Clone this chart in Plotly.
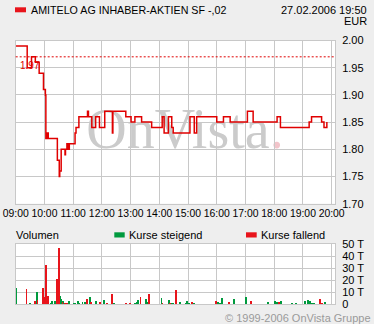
import plotly.graph_objects as go

DAY = "2006-02-27 "

# ---------------- data ----------------
price_times = ["09:00", "09:24", "09:33", "09:41", "09:49", "09:58", "10:02", "10:03", "10:05", "10:08",
               "10:27", "10:31", "10:32", "10:35", "10:43", "10:44", "10:47", "10:49", "10:52", "11:04",
               "11:06", "11:12", "11:30", "11:32", "11:39", "11:47", "11:55", "12:06", "12:22", "12:23",
               "12:50", "13:01", "13:09", "13:23", "13:44", "14:06", "14:10", "14:19", "14:26", "14:29",
               "15:04", "15:13", "15:18", "16:00", "16:14", "16:28", "17:04", "17:16", "18:06", "18:13",
               "19:13", "19:18", "19:39", "19:44", "19:50"]
price_values = [1.99, 1.95, 1.97, 1.96, 1.94, 1.91, 1.90, 1.82, 1.83, 1.82,
                1.78, 1.75, 1.76, 1.80, 1.79, 1.80, 1.81, 1.80, 1.81, 1.83,
                1.84, 1.86, 1.87, 1.86, 1.84, 1.86, 1.84, 1.87, 1.83, 1.87,
                1.86, 1.85, 1.86, 1.85, 1.84, 1.86, 1.83, 1.86, 1.84, 1.83,
                1.86, 1.83, 1.86, 1.85, 1.86, 1.85, 1.87, 1.85, 1.86, 1.84,
                1.85, 1.86, 1.85, 1.84, 1.85]
prev_close = 1.97

up_times = ["09:00", "09:30", "09:43", "10:04", "10:08", "10:14", "10:16", "10:21", "10:30", "10:32",
            "10:33", "10:35", "10:39", "10:41", "10:45", "10:50", "11:00", "11:02", "11:04", "11:09",
            "11:11", "11:19", "11:25", "11:27", "11:34", "11:48", "12:03", "12:24", "13:08", "13:12",
            "13:14", "13:16", "13:31", "13:33", "14:04", "14:19", "14:25", "14:29", "14:42", "14:54",
            "14:58", "15:02", "15:12", "16:02", "16:06", "16:11", "16:36", "17:01", "17:47", "18:01",
            "18:06", "18:14", "18:37", "18:45", "19:04", "19:10", "19:15", "19:19", "19:23", "19:46"]
up_volumes = [13.6, 1.1, 10.6, 2.0, 4.2, 1.1, 2.8, 2.8, 10.0, 4.4,
              7.0, 4.4, 2.8, 1.1, 1.1, 2.8, 1.1, 1.1, 1.1, 2.8,
              1.1, 2.0, 2.0, 2.0, 6.1, 2.8, 3.6, 1.1, 1.1, 2.0,
              3.6, 2.0, 4.4, 2.0, 5.3, 3.6, 1.1, 1.1, 2.0, 1.1,
              2.8, 1.1, 1.1, 2.0, 1.1, 5.3, 4.4, 6.1, 2.0, 2.8,
              2.0, 2.8, 1.1, 1.1, 2.8, 3.6, 2.8, 1.1, 1.1, 2.0]

down_times = ["09:22", "09:39", "09:45", "09:56", "10:00", "10:02", "10:06", "10:25", "10:29", "10:37",
              "10:43", "10:47", "11:29", "11:36", "11:55", "12:11", "12:20", "12:49", "12:59", "13:20",
              "13:37", "14:06", "14:21", "14:35", "15:08", "15:58", "16:25", "17:11", "18:10", "19:35",
              "19:40"]
down_volumes = [12.8, 2.8, 3.6, 13.6, 6.1, 32.8, 7.0, 21.1, 47.0, 2.0,
                1.1, 1.1, 4.4, 2.0, 2.0, 1.1, 8.6, 1.1, 1.1, 6.1,
                8.6, 1.1, 1.1, 12.0, 2.0, 2.8, 2.0, 2.8, 2.0, 4.4,
                1.1]

vol_tick_vals = [0, 10, 20, 30, 40, 50]
vol_tick_text = ["0", "10 T", "20 T", "30 T", "40 T", "50 T"]

title_text = "AMITELO AG INHABER-AKTIEN SF -,02"
date_text = "27.02.2006 19:50"
currency_text = "EUR"

# ---------------- styling ----------------
W, H = 374, 324
BG = "#EEEEEE"
GRID = "#C8C8C8"
RED = "#E8141B"
LINE_RED = "#E00000"
GREEN = "#009A3E"
FONT = "Liberation Sans, Arial, sans-serif"


def px(x):
    return x / W


def py(y):
    return 1 - y / H


def ts(t):
    return DAY + t


x_left, x_right = 15.7, 335.0
main_top, main_bot = 40.5, 203.7
vol_top, vol_bot = 244.0, 304.3

fig = go.Figure()

fig.add_trace(go.Scatter(
    x=[ts(t) for t in price_times], y=price_values,
    mode="lines", line=dict(color=LINE_RED, width=1.5, shape="hv"),
    xaxis="x", yaxis="y", hoverinfo="skip", showlegend=False))

fig.add_trace(go.Bar(
    x=[ts(t) for t in up_times], y=up_volumes, width=110000,
    marker=dict(color=GREEN, line=dict(width=0)),
    xaxis="x2", yaxis="y2", showlegend=False))

fig.add_trace(go.Bar(
    x=[ts(t) for t in down_times], y=down_volumes, width=110000,
    marker=dict(color=RED, line=dict(width=0)),
    xaxis="x2", yaxis="y2", showlegend=False))

x_range = [ts("09:00"), ts("20:07")]
common_x = dict(
    type="date", range=x_range, domain=[px(x_left), px(x_right)],
    dtick=3600000, tick0=ts("09:00"), tickformat="%H:%M", tickangle=0,
    showgrid=True, gridcolor=GRID, gridwidth=1,
    showline=True, linecolor=GRID, linewidth=1, mirror=True,
    ticks="", zeroline=False, fixedrange=True, automargin=False,
    tickfont=dict(family=FONT, size=10.4, color="#000000"),
)

fig.update_layout(
    width=W, height=H,
    margin=dict(l=0, r=0, t=0, b=0, autoexpand=False),
    paper_bgcolor=BG, plot_bgcolor="#FFFFFF",
    bargap=0, barmode="overlay",
    xaxis=dict(common_x, anchor="y"),
    yaxis=dict(
        domain=[py(main_bot), py(main_top)], range=[1.70, 2.00],
        dtick=0.05, tick0=1.70, tickformat=".2f", side="right", anchor="x",
        showgrid=True, gridcolor=GRID, showline=True, linecolor=GRID, mirror=True,
        ticks="", zeroline=False, ticklabelstandoff=4, automargin=False,
        tickfont=dict(family=FONT, size=11, color="#000000")),
    xaxis2=dict(common_x, anchor="y2", showticklabels=False),
    yaxis2=dict(
        domain=[py(vol_bot), py(vol_top)], range=[0, 50],
        tickvals=vol_tick_vals, ticktext=vol_tick_text, side="right", anchor="x2",
        showgrid=True, gridcolor=GRID, showline=True, linecolor=GRID, mirror=True,
        ticks="", zeroline=False, ticklabelstandoff=4, automargin=False,
        tickfont=dict(family=FONT, size=11, color="#000000")),
    showlegend=False,
)

# previous close reference line
fig.add_hline(y=prev_close, line=dict(color=LINE_RED, width=1, dash="2px,2px"),
              xref="x", yref="y")

shapes = []
# title square
shapes.append(dict(type="rect", xref="paper", yref="paper",
                   x0=px(15), x1=px(26), y0=py(12.3), y1=py(7.3),
                   fillcolor=RED, line=dict(width=0)))
# legend squares
shapes.append(dict(type="rect", xref="paper", yref="paper",
                   x0=px(114.3), x1=px(124.7), y0=py(237.5), y1=py(232.3),
                   fillcolor=GREEN, line=dict(width=0)))
shapes.append(dict(type="rect", xref="paper", yref="paper",
                   x0=px(246), x1=px(256.7), y0=py(237.5), y1=py(232.3),
                   fillcolor=RED, line=dict(width=0)))
# watermark
shapes.append(dict(type="rect", xref="paper", yref="paper", layer="below",
                   x0=px(70), x1=px(300), y0=py(150), y1=py(95),
                   fillcolor="rgba(0,0,0,0)", line=dict(width=0),
                   label=dict(text="OnVista<span style='color:#F2C4CA'>.</span>",
                              textposition="middle center",
                              font=dict(family="Liberation Serif, serif", size=56,
                                        color="#CBCBCB"))))
for s in shapes:
    fig.add_shape(**s)


def ann(text, x, y, xanchor="left", yanchor="middle", size=11, color="#000000", **kw):
    fig.add_annotation(text=text, x=x, y=y, xref="paper", yref="paper",
                       xanchor=xanchor, yanchor=yanchor, showarrow=False,
                       font=dict(family=FONT, size=size, color=color), **kw)


ann(title_text, px(29), py(9.5), size=10.7)
ann(date_text, px(369), py(9.5), xanchor="right", size=11)
ann(currency_text, px(369), py(21), xanchor="right", size=11)
ann("Volumen", px(14), py(235), size=11)
ann("Kurse steigend", px(127), py(235), size=11)
ann("Kurse fallend", px(259), py(235), size=11)
ann("\u00a9 1999-2006 OnVista Gruppe", px(373), py(318), xanchor="right", size=11, color="#9A9A9A")

fig.add_annotation(text=f"{prev_close:.2f}", x=ts("09:00"), y=prev_close, xref="x", yref="y",
                   xanchor="left", yanchor="top", xshift=2, yshift=-1, showarrow=False,
                   font=dict(family=FONT, size=10, color=LINE_RED))

fig.write_html("out.html")
